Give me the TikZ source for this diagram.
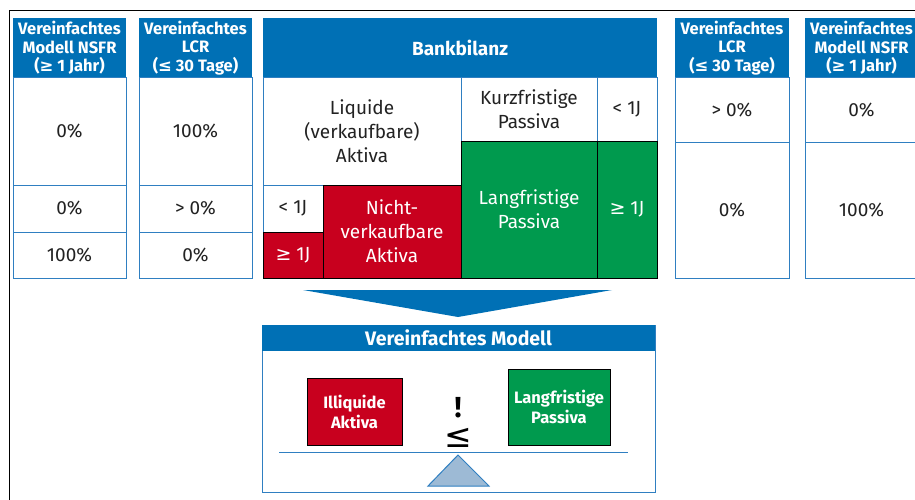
\documentclass[tikz,border=0pt]{standalone}
\usepackage{fontspec}
\setmainfont{Fira Sans}
\newfontfamily\symf{DejaVu Sans}
\definecolor{bblue}{HTML}{0070B5}
\definecolor{bred}{HTML}{C8001E}
\definecolor{bgreen}{HTML}{009A4E}
\definecolor{lblue}{HTML}{9DBAD5}
\definecolor{cellb}{HTML}{2F7FC1}
\definecolor{txt}{HTML}{222222}
\tikzset{
  sz/.style 2 args={minimum width=#1pt, minimum height=#2pt},
  box/.style={anchor=north west, inner sep=0pt, outer sep=0pt, align=center, font=\fontsize{19}{24}\selectfont},
  hdr/.style={box, fill=bblue, text=white, font=\bfseries\fontsize{16.5}{18.5}\selectfont},
  wcell/.style={box, fill=white, draw=cellb, line width=1pt, text=txt},
  rcell/.style={box, fill=bred, draw=black, line width=1pt, text=white},
  gcell/.style={box, fill=bgreen, draw=black, line width=1pt, text=white},
  mtxt/.style={font=\bfseries\fontsize{16.5}{20}\selectfont},
}
\newcommand{\GE}{{\symf ≥}}
\newcommand{\LE}{{\symf ≤}}
\begin{document}
\begin{tikzpicture}[x=1pt,y=-1pt]
\useasboundingbox (0,0) rectangle (915,500);
\clip (0,0) rectangle (915,500);
% frame
\draw[line width=1.5pt] (9.3,505) -- (9.3,10.3) -- (920,10.3);
% column 1
\node[hdr, sz={113}{60}] (h1) at (13,18) {Vereinfachtes\\Modell NSFR\\(\GE{} 1 Jahr)};
\node[wcell, sz={113}{107}] (c1a) at (13,78) {0\%};
\node[wcell, sz={113}{47}] (c1b) at (13,185) {0\%};
\node[wcell, sz={113}{46}] (c1c) at (13,232) {100\%};
% column 2
\node[hdr, sz={113}{60}] (h2) at (139,18) {Vereinfachtes\\LCR\\(\LE{} 30 Tage)};
\node[wcell, sz={113}{107}] (c2a) at (139,78) {100\%};
\node[wcell, sz={113}{47}] (c2b) at (139,185) {> 0\%};
\node[wcell, sz={113}{46}] (c2c) at (139,232) {0\%};
% Bankbilanz
\node[hdr, sz={394}{60}, font=\bfseries\fontsize{19}{20}\selectfont] (hb) at (263,18) {Bankbilanz};
\node[wcell, sz={198}{107}] (liq) at (263,78) {Liquide\\(verkaufbare)\\Aktiva};
\node[wcell, sz={136}{63}] (kurz) at (461,78) {Kurzfristige\\Passiva};
\node[wcell, sz={60}{63}] (k1j) at (597,78) {< 1J};
\node[wcell, sz={60}{47}] (l1j) at (263,185) {< 1J};
\node[rcell, sz={60}{46}] (g1j) at (263,232) {\GE{} 1J};
\node[rcell, sz={138}{93}] (nicht) at (323,185) {Nicht-\\verkaufbare\\Aktiva};
\node[gcell, sz={136}{137}] (lang) at (461,141) {Langfristige\\Passiva};
\node[gcell, sz={60}{137}] (p1j) at (597,141) {\GE{} 1J};
% column 3
\node[hdr, sz={114}{60}] (h3) at (675,18) {Vereinfachtes\\LCR\\(\LE{} 30 Tage)};
\node[wcell, sz={114}{64}] (c3a) at (675,78) {> 0\%};
\node[wcell, sz={114}{136}] (c3b) at (675,142) {0\%};
% column 4
\node[hdr, sz={113}{60}] (h4) at (805,18) {Vereinfachtes\\Modell NSFR\\(\GE{} 1 Jahr)};
\node[wcell, sz={113}{64}] (c4a) at (805,78) {0\%};
\node[wcell, sz={113}{136}] (c4b) at (805,142) {100\%};
% big arrow
\fill[bblue] (303,290) -- (612,290) -- (458,317) -- cycle;
% simplified model
\node[box, sz={393}{167}, draw=cellb, line width=1pt, fill=white] (mod) at (262,325) {};
\node[hdr, sz={393}{26}, font=\bfseries\fontsize{19.5}{20}\selectfont] (mh) at (262,325) {Vereinfachtes Modell};
\node[rcell, sz={95}{67}, mtxt] (ill) at (307,378) {Illiquide\\Aktiva};
\node[gcell, sz={102}{76}, mtxt] (lp) at (508,369) {Langfristige\\Passiva};
\node[inner sep=0pt, anchor=base, font=\bfseries\fontsize{29}{29}\selectfont] (ex) at (458,417) {!};
\node[inner sep=0pt, anchor=base, font=\symf\fontsize{33}{33}\selectfont] (le) at (458,447) {≤};
\coordinate (bl) at (279,452);
\coordinate (br) at (628,452);
\draw[cellb, line width=1pt] (bl) -- (br);
\draw[cellb, fill=lblue, line width=1pt] (458,455) -- (489,486) -- (428,486) -- cycle;
\end{tikzpicture}
\end{document}
